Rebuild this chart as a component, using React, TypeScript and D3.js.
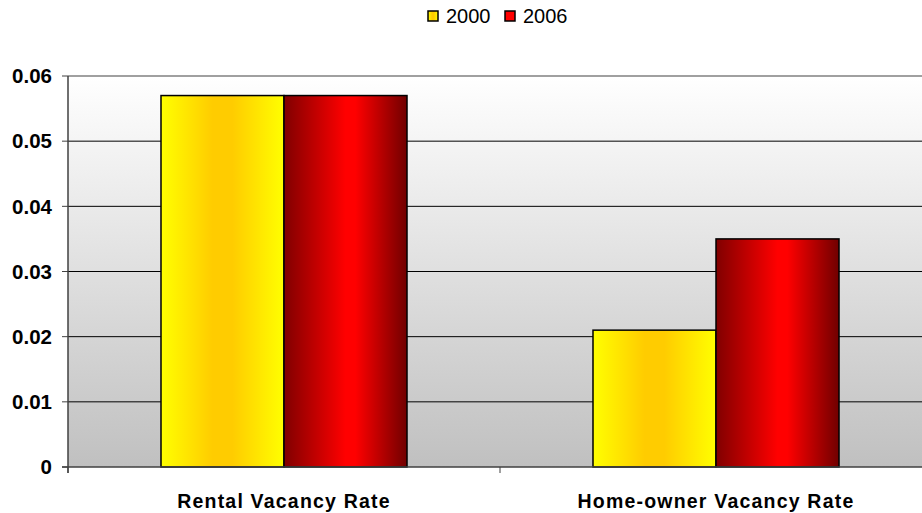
import React from 'react';
import * as d3 from 'd3';

const categories = ['Rental Vacancy Rate', 'Home-owner Vacancy Rate'];
const seriesNames = ['2000', '2006'];
const values2000 = [0.057, 0.021];
const values2006 = [0.057, 0.035];
const yTicks = [0, 0.01, 0.02, 0.03, 0.04, 0.05, 0.06];

const W = 922;
const H = 513;
const margin = { top: 76, right: -10, bottom: 46, left: 68 };

export default function App() {
  const x = d3.scaleBand().domain(categories).range([margin.left, W - margin.right]).paddingInner(0).paddingOuter(0);
  const xs = d3.scaleBand().domain(seriesNames).range([0, x.bandwidth()]).paddingInner(0).paddingOuter(0.756);
  const y = d3.scaleLinear().domain([0, 0.06]).range([H - margin.bottom, margin.top]);
  const fmt = (d: number) => (d === 0 ? '0' : d3.format('.2f')(d));
  const seriesValues = [values2000, values2006];
  const fills = ['url(#gYellow)', 'url(#gRed)'];
  const bottom = y(0);

  return (
    <svg width={W} height={H} style={{ position: 'absolute', left: 0, top: 0, fontFamily: 'Liberation Sans, Arial, sans-serif' }}>
      <defs>
        <linearGradient id="gBg" x1="0" y1="0" x2="0" y2="1">
          <stop offset="0" stopColor="#ffffff" />
          <stop offset="1" stopColor="#c0c0c0" />
        </linearGradient>
        <linearGradient id="gYellow" x1="0" y1="0" x2="1" y2="0">
          <stop offset="0" stopColor="#ffff00" />
          <stop offset="0.42" stopColor="#ffcc00" />
          <stop offset="0.58" stopColor="#ffcc00" />
          <stop offset="1" stopColor="#ffff00" />
        </linearGradient>
        <linearGradient id="gRed" x1="0" y1="0" x2="1" y2="0">
          <stop offset="0" stopColor="#800000" />
          <stop offset="0.5" stopColor="#ff0000" />
          <stop offset="0.58" stopColor="#ff0000" />
          <stop offset="1" stopColor="#700000" />
        </linearGradient>
      </defs>

      <rect x={margin.left} y={margin.top} width={W - margin.left} height={bottom - margin.top} fill="url(#gBg)" />
      <line x1={margin.left} x2={W} y1={margin.top} y2={margin.top} stroke="#808080" strokeWidth={1.5} />

      {yTicks.slice(1, -1).map(t => (
        <line key={t} x1={margin.left} x2={W} y1={y(t)} y2={y(t)} stroke="#000" strokeWidth={1} />
      ))}

      {categories.map((c, ci) => (
        <g key={c}>
          {seriesNames.map((s, si) => {
            const v = seriesValues[si][ci];
            return (
              <rect key={s} x={(x(c) || 0) + (xs(s) || 0)} y={y(v)} width={xs.bandwidth()} height={bottom - y(v)}
                fill={fills[si]} stroke="#000" strokeWidth={1.5} />
            );
          })}
        </g>
      ))}

      <line x1={margin.left} x2={margin.left} y1={margin.top} y2={bottom + 6} stroke="#404040" strokeWidth={1.5} />
      <line x1={margin.left - 6} x2={W} y1={bottom} y2={bottom} stroke="#404040" strokeWidth={1.5} />
      {yTicks.map(t => (
        <g key={t}>
          <line x1={margin.left - 6} x2={margin.left} y1={y(t)} y2={y(t)} stroke="#404040" strokeWidth={1} />
          <text x={52} y={y(t)} dy="0.35em" textAnchor="end" fontSize={20.5} fontWeight="bold">{fmt(t)}</text>
        </g>
      ))}
      {categories.map(c => (
        <g key={c}>
          <line x1={x(c) || 0} x2={x(c) || 0} y1={bottom} y2={bottom + 6} stroke="#404040" strokeWidth={1} />
          <text x={(x(c) || 0) + x.bandwidth() / 2} y={508} textAnchor="middle" fontSize={19.5} fontWeight="bold" letterSpacing={1.2}>{c}</text>
        </g>
      ))}

      {seriesNames.map((s, si) => (
        <g key={s} transform={`translate(${428 + si * 77},11)`}>
          <rect x={0} y={0} width={10} height={10} fill={si === 0 ? 'url(#gYellow)' : '#ff0000'} stroke="#000" strokeWidth={1.5} />
          <text x={18} y={5} dy="0.36em" fontSize={20}>{s}</text>
        </g>
      ))}
    </svg>
  );
}
